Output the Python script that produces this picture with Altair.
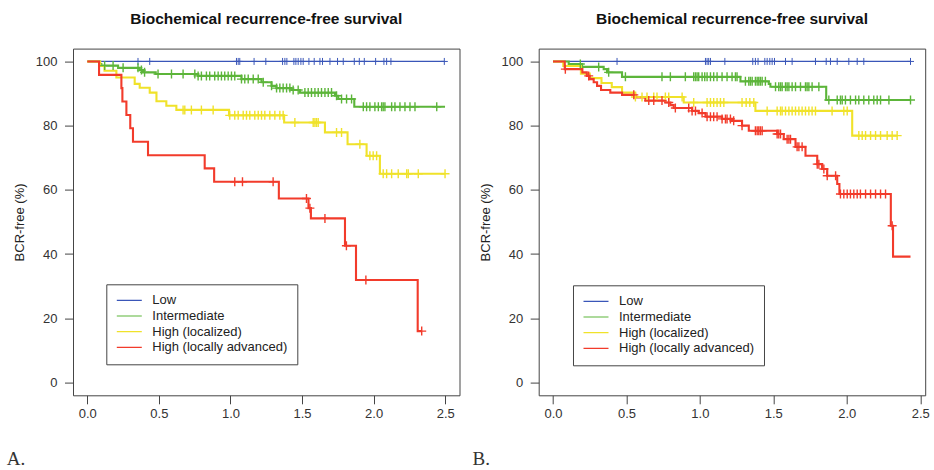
import altair as alt
import pandas as pd

GROUPS = ["Low", "Intermediate", "High (localized)", "High (locally advanced)"]
COLORS = ["#3a56b8", "#5cb53a", "#f0e22a", "#f23b2b"]

X_TICKS = [0.0, 0.5, 1.0, 1.5, 2.0, 2.5]
Y_TICKS = [0, 20, 40, 60, 80, 100]
TITLE = "Biochemical recurrence-free survival"
Y_TITLE = "BCR-free (%)"

# ---------------- Panel A ----------------
A_LOW_T = [0.0]
A_LOW_S = [100.0]
A_LOW_END = 2.494
A_LOW_CENS = [0.354, 0.436, 1.042, 1.054, 1.065, 1.165, 1.247, 1.364, 1.380, 1.394,
              1.443, 1.457, 1.473, 1.492, 1.508, 1.548, 1.585, 1.625, 1.643, 1.695,
              1.748, 1.788, 1.865, 1.900, 1.935, 2.014, 2.072, 2.091, 2.121, 2.494]

A_INT_T = [0.0, 0.086, 0.098, 0.215, 0.366, 0.389, 0.478, 0.774, 1.077, 1.217, 1.287,
           1.322, 1.427, 1.485, 1.730, 1.753, 1.865]
A_INT_S = [100.0, 99.2, 98.7, 98.0, 97.3, 96.6, 96.1, 95.5, 94.5, 93.5, 92.4,
           91.7, 91.1, 90.3, 89.3, 88.3, 85.9]
A_INT_END = 2.499
A_INT_CENS = [0.121, 0.18, 0.25, 0.354, 0.378, 0.40, 0.494, 0.588, 0.669, 0.751, 0.774,
              0.797, 0.832, 0.855, 0.89, 0.914, 0.937, 0.96, 0.984, 1.007, 1.03, 1.077,
              1.10, 1.124, 1.159, 1.194, 1.229, 1.287, 1.322, 1.345, 1.368, 1.392, 1.415,
              1.438, 1.473, 1.52, 1.543, 1.566, 1.59, 1.613, 1.636, 1.66, 1.683, 1.706,
              1.741, 1.776, 1.811, 1.846, 1.928, 1.951, 1.974, 2.009, 2.033, 2.056, 2.067,
              2.079, 2.126, 2.149, 2.184, 2.219, 2.254, 2.289, 2.441]

A_HL_T = [0.0, 0.09, 0.12, 0.203, 0.331, 0.366, 0.436, 0.483, 0.552, 0.622, 0.99,
          1.375, 1.66, 1.818, 1.951, 2.044]
A_HL_S = [100.0, 98.6, 97.1, 95.0, 93.0, 91.8, 90.3, 87.6, 86.2, 84.9, 83.2,
          81.0, 77.9, 74.2, 70.6, 65.0]
A_HL_END = 2.499
A_HL_CENS = [0.669, 0.681, 0.727, 0.797, 0.879, 0.995, 1.03, 1.054, 1.089, 1.112, 1.135,
             1.17, 1.194, 1.217, 1.24, 1.275, 1.31, 1.345, 1.368, 1.45, 1.578, 1.59,
             1.601, 1.613, 1.741, 1.776, 1.904, 1.974, 1.997, 2.021, 2.067, 2.091,
             2.126, 2.172, 2.231, 2.242, 2.312, 2.499]

A_HA_T = [0.0, 0.082, 0.238, 0.245, 0.273, 0.30, 0.319, 0.424, 0.82, 0.886, 1.338,
          1.545, 1.562, 1.80, 1.877, 2.308]
A_HA_S = [100.0, 95.8, 91.7, 87.5, 83.3, 79.2, 75.0, 70.8, 66.7, 62.5, 57.3,
          54.3, 51.1, 42.6, 31.9, 16.0]
A_HA_END = 2.336
A_HA_CENS = [1.03, 1.084, 1.298, 1.531, 1.555, 1.66, 1.81, 1.946, 2.336]

# ---------------- Panel B ----------------
B_LOW_T = [0.0]
B_LOW_S = [100.0]
B_LOW_END = 2.434
B_LOW_CENS = [0.436, 1.038, 1.049, 1.06, 1.072, 1.17, 1.36, 1.378, 1.396, 1.442, 1.458,
              1.476, 1.492, 1.508, 1.583, 1.628, 1.787, 1.86, 1.889, 1.935, 2.014,
              2.071, 2.116, 2.434]

B_INT_T = [0.0, 0.107, 0.198, 0.345, 0.368, 0.47, 1.276, 1.469, 1.48, 1.86]
B_INT_S = [100.0, 99.2, 98.3, 97.6, 96.6, 95.2, 93.8, 93.0, 92.1, 88.0]
B_INT_END = 2.434
B_INT_CENS = [0.186, 0.311, 0.379, 0.493, 0.742, 0.799, 0.901, 0.958, 0.97, 0.981, 0.992,
              1.015, 1.033, 1.049, 1.072, 1.094, 1.117, 1.151, 1.185, 1.219, 1.242, 1.253,
              1.31, 1.333, 1.344, 1.356, 1.378, 1.39, 1.401, 1.412, 1.424, 1.446, 1.515,
              1.537, 1.549, 1.56, 1.583, 1.594, 1.606, 1.628, 1.651, 1.685, 1.719, 1.73,
              1.742, 1.764, 1.81, 1.878, 1.935, 1.957, 1.969, 1.991, 2.025, 2.06, 2.082,
              2.116, 2.15, 2.184, 2.207, 2.23, 2.287, 2.434]

B_HL_T = [0.0, 0.07, 0.19, 0.25, 0.33, 0.40, 0.47, 0.56, 0.89, 1.378, 2.037]
B_HL_S = [100.0, 98.6, 96.2, 94.8, 93.3, 92.0, 90.3, 88.9, 87.2, 84.6, 76.9]
B_HL_END = 2.343
B_HL_CENS = [0.561, 0.606, 0.64, 0.686, 0.708, 0.765, 0.788, 0.879, 0.958, 1.049, 1.072,
             1.094, 1.117, 1.14, 1.163, 1.287, 1.315, 1.34, 1.367, 1.458, 1.526, 1.549,
             1.56, 1.583, 1.606, 1.628, 1.651, 1.674, 1.696, 1.719, 1.742, 1.764, 1.787,
             1.9, 1.98, 2.003, 2.082, 2.105, 2.128, 2.162, 2.196, 2.23, 2.275, 2.309, 2.343]

B_HA_T = [0.0, 0.08, 0.20, 0.23, 0.25, 0.277, 0.30, 0.327, 0.39, 0.47, 0.561, 0.629,
          0.765, 0.799, 0.822, 0.947, 0.992, 1.038, 1.151, 1.219, 1.287, 1.333, 1.526,
          1.571, 1.651, 1.719, 1.799, 1.832, 1.867, 1.935, 1.95, 2.30, 2.315]
B_HA_S = [100.0, 97.6, 96.6, 95.5, 94.5, 93.5, 92.4, 91.1, 90.3, 89.6, 88.8, 87.8,
          87.2, 86.4, 85.5, 84.6, 83.9, 82.8, 82.1, 81.5, 80.0, 78.4, 77.4,
          75.8, 73.4, 70.6, 68.0, 66.5, 64.4, 61.8, 58.7, 48.8, 39.2]
B_HA_END = 2.434
B_HA_CENS = [0.084, 0.243, 0.55, 0.652, 0.686, 0.742, 0.788, 0.833, 0.924, 0.947, 0.97,
             1.015, 1.049, 1.072, 1.094, 1.117, 1.151, 1.174, 1.185, 1.208, 1.23, 1.287,
             1.378, 1.39, 1.401, 1.412, 1.424, 1.526, 1.537, 1.549, 1.594, 1.606, 1.617,
             1.662, 1.674, 1.696, 1.799, 1.81, 1.844, 1.867, 1.924, 1.957, 1.98, 2.003,
             2.025, 2.048, 2.071, 2.093, 2.128, 2.162, 2.196, 2.23, 2.264, 2.309]

PANEL_A = [(A_LOW_T, A_LOW_S, A_LOW_END, A_LOW_CENS),
           (A_INT_T, A_INT_S, A_INT_END, A_INT_CENS),
           (A_HL_T, A_HL_S, A_HL_END, A_HL_CENS),
           (A_HA_T, A_HA_S, A_HA_END, A_HA_CENS)]
PANEL_B = [(B_LOW_T, B_LOW_S, B_LOW_END, B_LOW_CENS),
           (B_INT_T, B_INT_S, B_INT_END, B_INT_CENS),
           (B_HL_T, B_HL_S, B_HL_END, B_HL_CENS),
           (B_HA_T, B_HA_S, B_HA_END, B_HA_CENS)]

PLUS = "M0,-1L0,1M-1,0L1,0"


def surv_at(times, surv, t):
    v = surv[0]
    for ti, si in zip(times, surv):
        if ti <= t:
            v = si
    return v


def build(panel):
    line_rows, cens_rows = [], []
    for g, (times, surv, end, cens) in zip(GROUPS, panel):
        for t, s in zip(times, surv):
            line_rows.append({"t": t, "s": s, "g": g})
        line_rows.append({"t": end, "s": surv[-1], "g": g})
        for c in cens:
            cens_rows.append({"t": c, "s": surv_at(times, surv, c), "g": g})
    return pd.DataFrame(line_rows), pd.DataFrame(cens_rows)


def panel_chart(panel, xdom, letter, legend_xy):
    lines, cens = build(panel)
    color = alt.Color(
        "g:N",
        scale=alt.Scale(domain=GROUPS, range=COLORS),
        legend=alt.Legend(
            title=None, orient="none", legendX=legend_xy[0], legendY=legend_xy[1],
            symbolType="stroke", symbolSize=625, symbolStrokeWidth=1.2,
            labelFont="Liberation Sans", labelFontSize=13, labelColor="#222",
            strokeColor="#444", fillColor="white", padding=9.5,
            clipHeight=13, rowPadding=1.7, labelOffset=9.5, labelLimit=300,
        ),
    )
    x = alt.X(
        "t:Q",
        scale=alt.Scale(domain=xdom, nice=False, zero=False),
        title=letter,
        axis=alt.Axis(
            values=X_TICKS, format=".1f", grid=False, domain=False,
            tickSize=8.5, tickColor="#444", labelFont="Liberation Sans",
            labelFontSize=13, labelColor="#333", labelPadding=4, labelFlush=False,
            labelOverlap=False, titleFont="Liberation Serif", titleFontSize=19,
            titleFontWeight="normal", titleColor="#333", titleX=-66.7, titleY=69,
            titleAlign="left", titleBaseline="alphabetic",
        ),
    )
    y = alt.Y(
        "s:Q",
        scale=alt.Scale(domain=[-4, 104], nice=False, zero=False),
        title=Y_TITLE,
        axis=alt.Axis(
            values=Y_TICKS, grid=False, domain=False, tickSize=8.5, tickColor="#444",
            labelAngle=0, labelFont="Liberation Sans", labelFontSize=13,
            labelColor="#333", labelPadding=7.5, labelFlush=False,
            titleFont="Liberation Sans", titleFontSize=13, titleFontWeight="normal",
            titleColor="#222", titleX=-53.4, titleBaseline="middle",
        ),
    )
    base = alt.Chart(lines)
    low_line = base.mark_line(interpolate="step-after", strokeWidth=1.2).encode(
        x=x, y=y, color=color
    ).transform_filter(alt.datum.g == GROUPS[0])
    other_lines = base.mark_line(interpolate="step-after", strokeWidth=2.1).encode(
        x=x, y=y, color=color
    ).transform_filter(alt.datum.g != GROUPS[0])
    pts_base = alt.Chart(cens)
    low_pts = pts_base.mark_point(
        shape=PLUS, filled=False, size=49, opacity=1, strokeWidth=1.0
    ).encode(x="t:Q", y="s:Q", color=color).transform_filter(alt.datum.g == GROUPS[0])
    other_pts = pts_base.mark_point(
        shape=PLUS, filled=False, size=81, opacity=1, strokeWidth=1.4
    ).encode(x="t:Q", y="s:Q", color=color).transform_filter(alt.datum.g != GROUPS[0])
    return alt.layer(low_line, low_pts, other_lines, other_pts).properties(
        width=386.5,
        height=346.7,
        title=alt.TitleParams(
            TITLE, font="Liberation Sans", fontSize=15.5, fontWeight="bold",
            color="#111", anchor="middle", offset=9.3, baseline="alphabetic",
        ),
    )


chart_a = panel_chart(PANEL_A, [-0.1, 2.6], "A.", (33.3, 235.7))
chart_b = panel_chart(PANEL_B, [-0.0974, 2.534], "B.", (34.3, 236.7))

chart = (
    alt.hconcat(chart_a, chart_b, spacing=78.7, bounds="flush")
    .resolve_scale(color="independent")
    .resolve_legend(color="independent")
    .properties(
        padding={"left": 5, "top": 10.6, "right": 0, "bottom": 0},
        background="white",
    )
    .configure_view(stroke="#444", strokeWidth=1)
)

chart.save("out.html", embed_options={"renderer": "svg", "actions": False})
